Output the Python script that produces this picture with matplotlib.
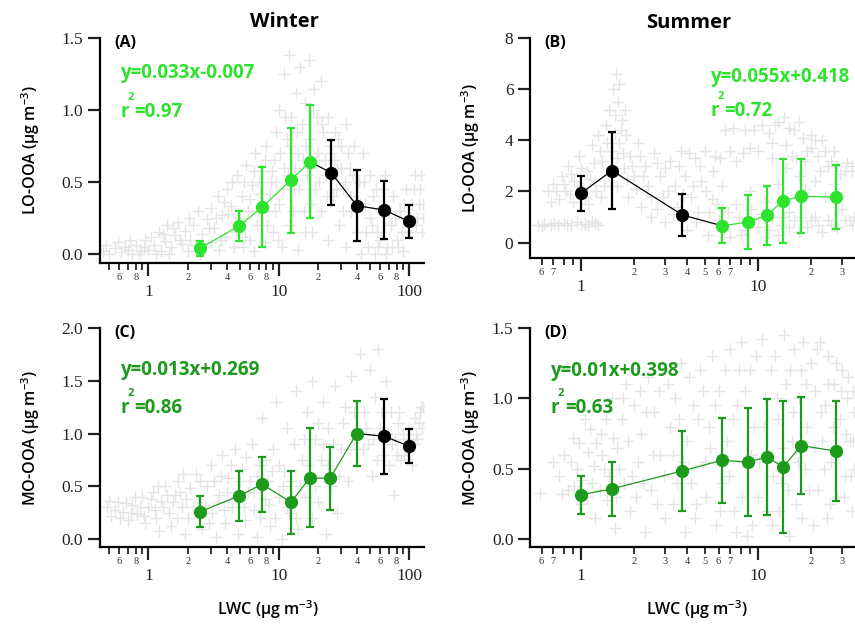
import matplotlib
matplotlib.use("Agg")
import matplotlib.pyplot as plt
from matplotlib.ticker import FixedLocator, FixedFormatter

plt.rcParams['font.family'] = ['Open Sans', 'DejaVu Sans']
plt.rcParams['mathtext.default'] = 'regular'

# ---------------- data ----------------
# (A) winter LO-OOA vs LWC, grey = all samples
a_bg = [(0.45, 0.02), (0.5, 0.0), (0.55, 0.04), (0.62, 0.01), (0.7, 0.03), (0.75, 0.0), (0.8, 0.06),
        (0.88, 0.02), (0.95, 0.1), (1.0, 0.03), (1.05, 0.12), (1.1, 0.06), (1.2, 0.15), (1.25, 0.02),
        (1.35, 0.09), (1.4, 0.2), (1.5, 0.05), (1.6, 0.13), (1.7, 0.22), (1.8, 0.07), (1.9, 0.16),
        (2.0, 0.02), (2.1, 0.1), (2.2, 0.2), (2.3, 0.06), (2.6, 0.14), (2.8, 0.24), (3.0, 0.08),
        (3.0, 0.32), (3.2, 0.18), (3.4, 0.4), (3.5, 0.03), (3.7, 0.27), (3.9, 0.12), (4.0, 0.45),
        (4.3, 0.33), (4.5, 0.05), (4.6, 0.22), (4.8, 0.55), (5.2, 0.4), (5.5, 0.12), (5.6, 0.62),
        (5.8, 0.3), (6.2, 0.48), (6.5, 0.02), (6.6, 0.7), (6.8, 0.2), (7.2, 0.42), (7.5, 0.58),
        (7.8, 0.08), (8.0, 0.75), (8.3, 0.3), (8.7, 0.5), (9.0, 0.15), (9.2, 0.65), (9.5, 0.85),
        (10, 0.35), (10, 1.0), (10.5, 0.05), (11, 0.6), (11, 1.25), (11.5, 0.8), (12, 0.2), (12, 1.38),
        (12.5, 0.95), (13, 0.45), (13.5, 1.12), (14, 0.7), (14, 0.03), (14.5, 1.3), (15, 0.9),
        (15.5, 0.3), (16, 1.05), (16.5, 0.55), (17, 1.35), (17.5, 0.8), (18, 0.15), (18.5, 1.15),
        (19, 0.45), (19.5, 0.95), (20, 0.7), (21, 1.2), (21, 0.3), (22, 0.85), (23, 0.55), (24, 0.95),
        (24, 0.1), (25, 0.7), (26, 0.4), (27, 0.85), (28, 0.6), (29, 0.2), (30, 0.75), (31, 0.45),
        (33, 0.9), (33, 0.05), (35, 0.6), (36, 0.3), (38, 0.75), (40, 0.15), (41, 0.5), (43, 0.0),
        (44, 0.7), (46, 0.35), (48, 0.05), (50, 0.55), (52, 0.2), (55, 0.0), (56, 0.45), (60, 0.1),
        (62, 0.3), (65, 0.55), (68, 0.05), (72, 0.2), (75, 0.4), (80, 0.1), (85, 0.3), (90, 0.02),
        (95, 0.45), (100, 0.15), (105, 0.35), (110, 0.55), (115, 0.25), (120, 0.45), (125, 0.15),
        (128, 0.35),
        (0.47, 0.06), (0.58, 0.08), (0.66, 0.05), (0.72, 0.1), (0.85, 0.0), (0.92, 0.05), (1.15, 0.0),
        (1.3, 0.14), (1.45, 0.0), (1.55, 0.18), (1.75, 0.1), (2.05, 0.25), (2.4, 0.3), (2.5, 0.0),
        (2.7, 0.05), (2.9, 0.18), (3.3, 0.25), (3.6, 0.1), (3.8, 0.36), (4.1, 0.28), (4.4, 0.5),
        (4.7, 0.15), (5.0, 0.25), (5.3, 0.05), (5.4, 0.5), (6.0, 0.38), (6.0, 0.1), (6.4, 0.58),
        (6.9, 0.3), (7.0, 0.5), (7.6, 0.35), (7.9, 0.65), (8.1, 0.2), (8.5, 0.42), (8.9, 0.58),
        (9.3, 0.3), (9.6, 0.5), (9.8, 0.1), (10.2, 0.7), (10.8, 0.45), (11.2, 0.95), (11.8, 0.55),
        (12.2, 0.75), (12.8, 0.3), (13.2, 0.6), (13.8, 0.85), (14.2, 0.45), (15.2, 0.65), (15.8, 0.15),
        (16.2, 0.75), (17.2, 0.6), (17.8, 0.35), (18.2, 1.0), (19.2, 0.65), (20.5, 0.5), (21.5, 0.9),
        (22.5, 0.65), (23.5, 0.4), (24.5, 0.75), (25.5, 0.55), (26.5, 0.65), (27.5, 0.45), (28.5, 0.8),
        (30, 0.6), (31, 0.3), (32, 0.5), (34, 0.7), (35, 0.4), (37, 0.55), (39, 0.3), (42, 0.35),
        (45, 0.5), (47, 0.15), (50, 0.25), (53, 0.4), (57, 0.15), (58, 0.05), (63, 0.45), (66, 0.0),
        (70, 0.3), (74, 0.05), (78, 0.25), (82, 0.05), (88, 0.15), (92, 0.35), (98, 0.25), (108, 0.45),
        (112, 0.2), (118, 0.35), (123, 0.55), (127, 0.25)]
a_green_x = [2.49, 4.98, 7.48, 12.3, 17.3]
a_green_y = [0.040, 0.195, 0.326, 0.511, 0.641]
a_green_sd = [0.052, 0.103, 0.281, 0.363, 0.393]
a_black_x = [25.1, 39.7, 64.3, 100]
a_black_y = [0.566, 0.336, 0.305, 0.226]
a_black_sd = [0.227, 0.248, 0.203, 0.117]

# (B) summer LO-OOA vs LWC
b_bg = [(0.57, 0.7), (0.62, 0.72), (0.68, 0.68), (0.74, 0.7), (0.8, 0.75), (0.88, 0.7), (0.95, 0.8),
        (1.05, 0.72), (1.15, 0.85), (1.25, 0.7), (0.65, 2.0), (0.7, 2.3), (0.75, 1.7), (0.78, 2.6),
        (0.82, 2.0), (0.85, 3.0), (0.9, 1.6), (0.92, 2.4), (0.98, 3.4), (1.02, 2.1), (1.08, 2.8),
        (1.1, 1.5), (1.15, 3.8), (1.2, 2.4), (1.25, 4.2), (1.3, 1.8), (1.32, 3.2), (1.38, 4.6),
        (1.42, 2.6), (1.45, 5.2), (1.5, 3.6), (1.52, 6.0), (1.55, 4.3), (1.58, 6.6), (1.6, 2.2),
        (1.62, 5.5), (1.65, 3.9), (1.7, 4.8), (1.75, 2.9), (1.8, 4.2), (1.85, 1.8), (1.9, 3.4),
        (2.0, 2.6), (2.1, 3.9), (2.2, 1.4), (2.3, 3.0), (2.4, 2.2), (2.5, 1.0), (2.6, 3.5), (2.8, 2.6),
        (2.9, 1.8), (3.0, 0.8), (3.2, 3.2), (3.4, 2.2), (3.5, 1.4), (3.7, 3.6), (3.9, 2.6), (4.0, 0.5),
        (4.2, 1.8), (4.4, 3.3), (4.6, 1.2), (4.8, 2.4), (5.0, 3.6), (5.2, 0.3), (5.5, 1.7), (5.7, 3.4),
        (6.0, 0.9), (6.3, 2.2), (6.5, 4.4), (7.0, 3.6), (7.2, 4.5), (7.5, 1.5), (8.0, 0.3), (8.2, 3.5),
        (8.5, 4.4), (9.0, 2.0), (9.5, 0.9), (10, 3.6), (10.5, 4.6), (11, 1.6), (11, 0.2), (12, 3.3),
        (12.5, 4.6), (13, 2.3), (13.5, 0.7), (14, 4.9), (14.5, 3.8), (15, 1.2), (16, 4.4), (16.5, 3.3),
        (17, 0.4), (18, 4.1), (18.5, 2.1), (19, 3.6), (20, 4.2), (21, 1.0), (22, 3.4), (23, 4.0),
        (24, 1.8), (25, 3.0), (26, 0.7), (27, 3.6), (29, 2.7), (30, 1.3), (32, 3.1), (33, 0.9),
        (34, 2.8), (35, 1.0),
        (0.6, 0.65), (0.71, 0.75), (0.84, 0.68), (1.0, 0.74), (1.1, 0.66), (1.2, 0.78), (0.68, 1.6),
        (0.72, 2.0), (0.8, 2.3), (0.87, 1.9), (0.88, 2.7), (0.95, 2.2), (1.0, 2.9), (1.05, 1.8),
        (1.12, 2.5), (1.18, 3.1), (1.22, 2.0), (1.28, 3.6), (1.35, 2.2), (1.4, 3.9), (1.48, 2.9),
        (1.55, 5.0), (1.6, 3.3), (1.65, 6.2), (1.68, 4.4), (1.72, 3.5), (1.78, 5.2), (1.82, 2.5),
        (1.95, 3.0), (2.05, 2.1), (2.15, 3.4), (2.25, 2.6), (2.5, 1.8), (2.7, 3.1), (2.7, 1.3),
        (3.0, 2.9), (3.1, 2.0), (3.3, 1.1), (3.6, 3.0), (3.8, 1.9), (4.1, 3.5), (4.3, 2.2), (4.5, 0.8),
        (4.7, 3.0), (5.1, 2.0), (5.3, 1.2), (5.6, 2.8), (5.9, 1.5), (6.1, 3.3), (6.4, 0.5), (6.8, 1.2),
        (7.0, 0.2), (7.8, 1.0), (8.5, 0.5), (9.2, 1.3), (10, 0.6), (10.5, 1.1), (11.5, 0.5), (12, 1.0),
        (13, 0.3), (14, 1.0), (15, 0.6), (16, 0.9), (17.5, 1.0), (19, 0.6), (20, 0.9), (22, 0.7),
        (23, 0.4), (25, 0.9), (28, 0.6), (31, 0.9), (34, 0.7), (7.5, 3.2), (9.0, 3.7), (9.5, 4.4),
        (11.5, 4.3), (12, 3.9), (13, 4.7), (15, 4.5), (15.5, 3.4), (17, 4.7), (18.5, 3.2), (20, 3.7),
        (21, 4.0), (22.5, 2.8), (24, 3.6), (26, 3.2), (28, 3.0), (31, 2.8), (34, 3.0), (14.5, 2.9),
        (17, 2.6), (21, 2.4), (27, 2.3)]
b_black_x = [1.0, 1.5, 3.75]
b_black_y = [1.925, 2.82, 1.08]
b_black_sd = [0.685, 1.50, 0.83]
b_green_x = [6.26, 8.78, 11.3, 13.8, 17.6, 27.7]
b_green_y = [0.66, 0.80, 1.07, 1.63, 1.815, 1.78]
b_green_sd = [0.69, 1.05, 1.16, 1.66, 1.445, 1.26]

# (C) winter MO-OOA vs LWC
c_bg = [(0.48, 0.3), (0.52, 0.22), (0.58, 0.35), (0.64, 0.26), (0.7, 0.18), (0.75, 0.32), (0.82, 0.24),
        (0.9, 0.4), (0.95, 0.15), (1.0, 0.3), (1.08, 0.45), (1.15, 0.2), (1.2, 0.08), (1.25, 0.36),
        (1.35, 0.5), (1.45, 0.25), (1.5, 0.12), (1.6, 0.42), (1.7, 0.55), (1.8, 0.3), (1.9, 0.05),
        (2.0, 0.2), (2.1, 0.48), (2.3, 0.62), (2.4, 0.35), (2.6, 0.1), (2.8, 0.5), (3.0, 0.7),
        (3.1, 0.25), (3.3, 0.02), (3.5, 0.42), (3.7, 0.8), (3.9, 0.15), (4.1, 0.58), (4.4, 0.3),
        (4.6, 0.85), (4.9, 0.05), (5.2, 0.66), (5.5, 0.18), (5.8, 0.45), (6.2, 0.9), (6.5, 0.28),
        (6.8, 0.02), (7.0, 0.7), (7.4, 1.15), (7.8, 0.38), (8.2, 0.55), (8.6, 0.12), (9, 0.85),
        (9.5, 1.3), (10, 0.4), (10.5, 0.0), (11, 0.65), (11.5, 1.05), (12, 0.25), (13, 0.9), (13.5, 1.4),
        (14, 0.1), (15, 0.75), (16, 0.4), (16.5, 1.2), (18, 0.2), (18, 1.5), (19, 0.95), (20, 0.35),
        (21, 0.75), (22, 1.3), (23, 0.05), (24, 1.05), (25, 0.5), (27, 1.45), (28, 0.25), (30, 0.85),
        (32, 1.25), (34, 0.55), (36, 1.55), (38, 0.95), (40, 0.7), (42, 1.75), (45, 1.2), (48, 0.9),
        (50, 1.6), (52, 0.6), (55, 1.35), (58, 1.8), (60, 1.05), (63, 0.8), (66, 1.5), (70, 0.7),
        (72, 1.2), (76, 0.42), (78, 0.95), (82, 1.1), (86, 0.75), (90, 1.0), (95, 0.85), (100, 1.05),
        (105, 0.7), (110, 1.15), (115, 0.95), (120, 1.2), (125, 1.05), (128, 1.25),
        (0.5, 0.36), (0.55, 0.28), (0.61, 0.2), (0.67, 0.34), (0.73, 0.25), (0.79, 0.4), (0.86, 0.3),
        (0.93, 0.22), (1.04, 0.38), (1.12, 0.28), (1.18, 0.5), (1.3, 0.3), (1.4, 0.42), (1.55, 0.35),
        (1.65, 0.2), (1.75, 0.45), (1.85, 0.62), (1.95, 0.38), (2.2, 0.3), (2.5, 0.55), (2.7, 0.32),
        (2.9, 0.15), (3.2, 0.55), (3.4, 0.35), (3.6, 0.6), (3.8, 0.28), (4.0, 0.45), (4.3, 0.7),
        (4.7, 0.4), (5.0, 0.55), (5.4, 0.3), (5.6, 0.78), (6.0, 0.55), (6.4, 0.45), (6.8, 0.6),
        (7.2, 0.2), (7.6, 0.5), (8.0, 0.75), (8.4, 0.32), (8.8, 0.65), (9.4, 0.2), (10, 0.7),
        (10.8, 0.5), (11.5, 0.3), (12.5, 0.55), (13.5, 0.2), (14.5, 0.5), (15.5, 0.95), (17, 0.7),
        (19, 0.5), (20, 1.1), (22, 0.9), (24, 0.7), (26, 0.9), (29, 0.6), (31, 1.1), (35, 0.85),
        (38, 1.2), (44, 0.85), (47, 1.05), (53, 0.95), (57, 0.75), (62, 1.2), (68, 1.0), (74, 0.9),
        (80, 0.8), (84, 1.2), (92, 0.8), (98, 0.95), (108, 0.9), (112, 1.0), (118, 1.1), (124, 1.25)]
c_green_x = [2.49, 4.98, 7.44, 12.4, 17.3, 24.7, 39.5]
c_green_y = [0.26, 0.41, 0.52, 0.35, 0.58, 0.575, 1.0]
c_green_sd = [0.15, 0.24, 0.26, 0.30, 0.47, 0.295, 0.31]
c_black_x = [64.3, 100]
c_black_y = [0.975, 0.88]
c_black_sd = [0.355, 0.16]

# (D) summer MO-OOA vs LWC
d_bg = [(0.59, 0.33), (0.75, 0.45), (0.8, 0.6), (0.85, 0.35), (0.9, 0.72), (0.95, 0.5), (1.0, 0.25),
        (1.05, 0.85), (1.1, 0.62), (1.15, 0.4), (1.2, 0.15), (1.25, 0.95), (1.3, 0.75), (1.35, 0.5),
        (1.4, 0.28), (1.5, 1.0), (1.55, 0.08), (1.6, 0.65), (1.7, 0.85), (1.75, 0.4), (1.8, 1.1),
        (1.9, 0.2), (2.0, 0.95), (2.1, 0.55), (2.2, 0.75), (2.3, 0.05), (2.4, 1.15), (2.5, 0.35),
        (2.6, 0.9), (2.8, 0.6), (2.9, 1.2), (3.0, 0.15), (3.2, 0.8), (3.4, 1.0), (3.5, 0.4), (3.7, 1.25),
        (3.9, 0.05), (4.0, 0.7), (4.3, 0.95), (4.5, 0.25), (4.7, 1.2), (5.0, 0.55), (5.3, 0.8),
        (5.5, 1.3), (5.8, 0.1), (6.0, 1.05), (6.3, 0.4), (6.7, 0.7), (7.0, 1.35), (7.3, 0.2),
        (7.6, 0.95), (8.0, 1.4), (8.3, 0.55), (8.7, 0.02), (9.0, 1.2), (9.5, 0.8), (10, 0.3),
        (10.5, 1.42), (11, 1.0), (11.5, 0.6), (12, 0.1), (12.5, 1.3), (13, 0.85), (13.5, 0.4),
        (14, 1.45), (14.5, 1.1), (15, 0.02), (15.5, 0.7), (16, 1.35), (16.5, 0.25), (17, 1.0),
        (18, 1.4), (18.5, 0.5), (19, 0.8), (20, 1.25), (20.5, 0.1), (21, 1.05), (22, 0.35), (22.5, 1.4),
        (23, 0.7), (24, 0.95), (24.5, 0.15), (25, 1.3), (26, 0.55), (27, 1.1), (28, 0.3), (29, 0.85),
        (30, 1.2), (31, 0.45), (32, 1.0), (33, 0.7), (34, 0.2), (35, 0.9), (35, 0.5),
        (0.7, 0.55), (0.78, 0.32), (0.88, 0.55), (0.92, 0.38), (0.98, 0.68), (1.02, 0.42), (1.08, 0.3),
        (1.12, 0.78), (1.18, 0.52), (1.22, 0.68), (1.28, 0.35), (1.32, 0.6), (1.38, 0.85), (1.45, 0.45),
        (1.52, 0.72), (1.58, 0.3), (1.65, 0.5), (1.72, 1.0), (1.85, 0.7), (1.95, 0.45), (2.05, 0.3),
        (2.15, 1.05), (2.25, 0.4), (2.35, 0.9), (2.55, 0.6), (2.7, 0.25), (2.75, 1.05), (2.95, 0.45),
        (3.1, 1.1), (3.3, 0.6), (3.3, 0.25), (3.6, 0.85), (3.8, 0.55), (4.1, 1.15), (4.2, 0.4),
        (4.4, 0.15), (4.6, 0.85), (4.9, 1.05), (5.1, 0.3), (5.4, 0.65), (5.7, 0.95), (6.1, 0.2),
        (6.2, 0.6), (6.5, 1.2), (6.9, 0.45), (7.2, 0.85), (7.5, 0.05), (7.8, 1.2), (8.1, 0.3),
        (8.5, 1.05), (9.2, 0.6), (9.3, 0.1), (9.8, 1.3), (10.2, 0.55), (10.8, 0.8), (11.2, 0.2),
        (11.8, 1.2), (12.2, 0.45), (12.8, 1.0), (13.2, 0.2), (13.8, 0.65), (14.8, 0.35), (15.2, 1.2),
        (15.8, 0.9), (16.8, 0.55), (17.5, 1.2), (17.8, 0.15), (18.8, 1.1), (19.5, 0.35), (20.8, 0.65),
        (21.5, 1.35), (22.8, 0.9), (23.5, 0.5), (24.8, 1.1), (25.5, 0.25), (26.5, 0.8), (27.5, 1.25),
        (28.5, 0.6), (29.5, 1.05), (30.5, 0.3), (31.5, 0.75), (32.5, 1.15), (33.5, 0.45), (34.5, 1.05),
        (34.5, 0.7)]
d_green_x = [1.0, 1.5, 3.75, 6.26, 8.78, 11.3, 13.9, 17.6, 27.7]
d_green_y = [0.315, 0.357, 0.485, 0.56, 0.548, 0.583, 0.513, 0.665, 0.625]
d_green_sd = [0.135, 0.19, 0.285, 0.30, 0.383, 0.41, 0.467, 0.345, 0.355]
d_black_x = []
d_black_y = []
d_black_sd = []

# fit annotations
a_fit = ('y=0.033x-0.007', '=0.97')
b_fit = ('y=0.055x+0.418', '=0.72')
c_fit = ('y=0.013x+0.269', '=0.86')
d_fit = ('y=0.01x+0.398', '=0.63')

# tick positions / labels
win_major = [1, 10, 100]
win_major_lab = ['1', '10', '100']
win_minor = [0.5, 0.6, 0.7, 0.8, 0.9, 2, 3, 4, 5, 6, 7, 8, 9, 20, 30, 40, 50, 60, 70, 80, 90]
win_minor_lab = ['', '6', '', '8', '', '2', '', '4', '', '6', '', '8', '',
                 '2', '', '4', '', '6', '', '8', '']
sum_major = [1, 10]
sum_major_lab = ['1', '10']
sum_minor = [0.6, 0.7, 0.8, 0.9, 2, 3, 4, 5, 6, 7, 8, 9, 20, 30]
sum_minor_lab = ['6', '7', '', '', '2', '3', '4', '5', '6', '7', '', '', '2', '3']

a_yt, a_ytl = [0, 0.5, 1.0, 1.5], ['0.0', '0.5', '1.0', '1.5']
b_yt, b_ytl = [0, 2, 4, 6, 8], ['0', '2', '4', '6', '8']
c_yt, c_ytl = [0, 0.5, 1.0, 1.5, 2.0], ['0.0', '0.5', '1.0', '1.5', '2.0']
d_yt, d_ytl = [0, 0.5, 1.0, 1.5], ['0.0', '0.5', '1.0', '1.5']

LIGHT_GREEN = '#2ee32e'
DARK_GREEN = '#1c9a1c'
GREY = '#e4e4e4'


def draw(ax, bg, gx, gy, gsd, kx, ky, ksd, gcol, black_left):
    bx, by = zip(*bg)
    ax.plot(bx, by, '+', color=GREY, ms=9, mew=1.0, zorder=1)
    ax.plot(gx, gy, '-', color=gcol, lw=0.9, zorder=2)
    if kx:
        if black_left:
            lx, ly = kx + gx[:1], ky + gy[:1]
        else:
            lx, ly = gx[-1:] + kx, gy[-1:] + ky
        ax.plot(lx, ly, '-', color='k', lw=0.9, zorder=2)
        ax.errorbar(kx, ky, yerr=ksd, fmt='o', color='k', ms=8.5, elinewidth=1.6,
                    capsize=3.2, capthick=1.6, zorder=3)
    ax.errorbar(gx, gy, yerr=gsd, fmt='o', color=gcol, ms=8.5, elinewidth=1.6,
                capsize=3.2, capthick=1.6, zorder=3)


def style(ax, xlim, ylim, yt, ytl, major, major_lab, minor, minor_lab):
    ax.set_xscale('log')
    ax.set_xlim(xlim)
    ax.set_ylim(ylim)
    ax.xaxis.set_major_locator(FixedLocator(major))
    ax.xaxis.set_major_formatter(FixedFormatter(major_lab))
    ax.xaxis.set_minor_locator(FixedLocator(minor))
    ax.xaxis.set_minor_formatter(FixedFormatter(minor_lab))
    ax.set_yticks(yt)
    ax.set_yticklabels(ytl)
    ax.spines[['top', 'right']].set_visible(False)
    ax.spines[['left', 'bottom']].set_linewidth(1.6)
    ax.tick_params(which='major', direction='out', length=9, width=1.6, labelsize=12.5,
                   pad=3, labelfontfamily='Liberation Serif', colors='#222222')
    ax.tick_params(axis='x', which='major', pad=6)
    ax.tick_params(axis='x', which='minor', direction='out', length=5, width=1.4,
                   labelsize=7.5, pad=2, labelfontfamily='Liberation Serif', colors='#333333')


def annotate(ax, letter, fit, x0, y_eq, y_r, gcol):
    ax.text(0.045, 1.015, letter, transform=ax.transAxes, fontsize=11.5,
            fontweight='bold', va='top', ha='left')
    ax.text(x0, y_eq, fit[0], transform=ax.transAxes, fontsize=13.5, fontweight='bold',
            color=gcol, va='center', ha='left')
    ax.text(x0, y_r, 'r', transform=ax.transAxes, fontsize=13.5,
            fontweight='bold', color=gcol, va='center', ha='left')
    ax.text(x0 + 0.045, y_r, fit[1], transform=ax.transAxes, fontsize=13.5,
            fontweight='bold', color=gcol, va='center', ha='left')
    ax.text(x0 + 0.023, y_r + 0.066, '2', transform=ax.transAxes, fontsize=8,
            fontweight='bold', color=gcol, va='center', ha='left')


fig = plt.figure(figsize=(8.55, 6.26), dpi=100)
ax_a = fig.add_axes([0.117, 0.580, 0.379, 0.359])
ax_b = fig.add_axes([0.620, 0.588, 0.380, 0.351])
ax_c = fig.add_axes([0.117, 0.126, 0.379, 0.350])
ax_d = fig.add_axes([0.620, 0.126, 0.380, 0.350])

draw(ax_a, a_bg, a_green_x, a_green_y, a_green_sd, a_black_x, a_black_y, a_black_sd,
     LIGHT_GREEN, False)
draw(ax_b, b_bg, b_green_x, b_green_y, b_green_sd, b_black_x, b_black_y, b_black_sd,
     LIGHT_GREEN, True)
draw(ax_c, c_bg, c_green_x, c_green_y, c_green_sd, c_black_x, c_black_y, c_black_sd,
     DARK_GREEN, False)
draw(ax_d, d_bg, d_green_x, d_green_y, d_green_sd, d_black_x, d_black_y, d_black_sd,
     DARK_GREEN, True)

style(ax_a, (0.426, 130), (-0.0625, 1.5), a_yt, a_ytl, win_major, win_major_lab, win_minor, win_minor_lab)
style(ax_b, (0.517, 35.4), (-0.6, 8), b_yt, b_ytl, sum_major, sum_major_lab, sum_minor, sum_minor_lab)
style(ax_c, (0.426, 130), (-0.076, 2.0), c_yt, c_ytl, win_major, win_major_lab, win_minor, win_minor_lab)
style(ax_d, (0.517, 35.4), (-0.057, 1.5), d_yt, d_ytl, sum_major, sum_major_lab, sum_minor, sum_minor_lab)

annotate(ax_a, '(A)', a_fit, 0.062, 0.843, 0.670, LIGHT_GREEN)
annotate(ax_b, '(B)', b_fit, 0.554, 0.822, 0.668, LIGHT_GREEN)
annotate(ax_c, '(C)', c_fit, 0.062, 0.810, 0.635, DARK_GREEN)
annotate(ax_d, '(D)', d_fit, 0.062, 0.805, 0.635, DARK_GREEN)

ylab_kw = dict(fontsize=11.5, fontweight='semibold')
ax_a.set_ylabel('LO-OOA (µg m$^{-3}$)', **ylab_kw)
ax_b.set_ylabel('LO-OOA (µg m$^{-3}$)', **ylab_kw)
ax_c.set_ylabel('MO-OOA (µg m$^{-3}$)', **ylab_kw)
ax_d.set_ylabel('MO-OOA (µg m$^{-3}$)', **ylab_kw)
ax_a.yaxis.set_label_coords(-0.179, 0.5)
ax_c.yaxis.set_label_coords(-0.179, 0.5)
ax_b.yaxis.set_label_coords(-0.148, 0.5)
ax_d.yaxis.set_label_coords(-0.148, 0.5)

ax_c.set_xlabel('LWC (µg m$^{-3}$)', **ylab_kw)
ax_d.set_xlabel('LWC (µg m$^{-3}$)', **ylab_kw)
ax_c.xaxis.set_label_coords(0.518, -0.235)
ax_d.xaxis.set_label_coords(0.514, -0.235)

fig.text(0.333, 0.965, 'Winter', fontsize=14.5, fontweight='bold', ha='center', va='center')
fig.text(0.805, 0.963, 'Summer', fontsize=14.5, fontweight='bold', ha='center', va='center')

fig.savefig('out.png', dpi=100)
